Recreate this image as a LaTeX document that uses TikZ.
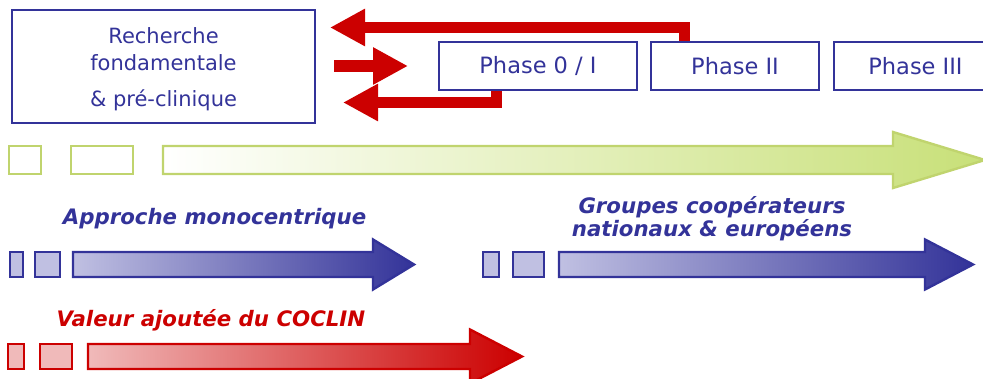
\documentclass[tikz,border=0pt]{standalone}
\usepackage{fontspec}
\setmainfont{DejaVu Sans}
\usetikzlibrary{arrows.meta}

\definecolor{phaseblue}{RGB}{51,51,153}
\definecolor{cocred}{RGB}{204,0,0}
\definecolor{limeline}{RGB}{192,212,110}
\definecolor{limefill}{RGB}{200,224,120}
\definecolor{lavender}{RGB}{192,192,226}
\definecolor{pinkfill}{RGB}{240,186,186}

% arrow shaped track: shaft start, head base, tip, centre y, shaft half, head half, style
\newcommand{\trackarrow}[7]{%
  \path[#7] (#1,#4-#5) -- (#2,#4-#5) -- (#2,#4-#6) -- (#3,#4) -- (#2,#4+#6)
    -- (#2,#4+#5) -- (#1,#4+#5) -- cycle;}

\tikzset{
  phasebox/.style={draw=phaseblue, line width=2.4pt, text=phaseblue, inner sep=0pt,
    minimum height=48pt, font=\fontsize{22.5}{27}\selectfont},
  backarrow/.style={cocred, line width=11pt, line join=miter,
    -{Triangle[length=35pt,width=35pt]}},
  tracklabel/.style={anchor=base, font=\fontsize{21.3}{23}\selectfont\bfseries\itshape},
  greentrack/.style={draw=limeline, line width=2.4pt, left color=white, right color=limefill},
  bluetrack/.style={draw=phaseblue, line width=2.4pt, left color=lavender, right color=phaseblue},
  redtrack/.style={draw=cocred, line width=2.4pt, left color=pinkfill, right color=cocred}
}

\begin{document}
\begin{tikzpicture}[x=1pt,y=-1pt]
\useasboundingbox (0,0) rectangle (983,379);

% Draw the research box and the phases
\node[phasebox, minimum width=303pt, minimum height=113pt, align=center,
  font=\fontsize{21}{27}\selectfont] (rech) at (163.5,66.5)
  {\rule{0pt}{22pt}Recherche\\fondamentale\\[9pt]\& pré-clinique};
\node[phasebox, minimum width=198pt] (p0) at (538,66) {Phase 0 / I};
\node[phasebox, minimum width=168pt] (p2) at (735,66) {Phase II};
\node[phasebox, minimum width=163pt] (p3) at (915.5,66) {Phase III};

% Draw the red feedback arrows
\coordinate (uptip) at (330,27.5);
\coordinate (midtail) at (334,66);
\coordinate (midtip) at (408,66);
\coordinate (lowtip) at (343,102.5);
\draw[backarrow] ([xshift=-51pt]p2.north) |- (uptip);
\draw[backarrow, line width=12pt] (midtail) -- (midtip);
\draw[backarrow] ([xshift=-42pt]p0.south) |- (lowtip);

% Draw the green track
\filldraw[draw=limeline, line width=2.4pt, fill=white] (9,146) rectangle (41,174);
\filldraw[draw=limeline, line width=2.4pt, fill=white] (71,146) rectangle (133,174);
\trackarrow{163}{893}{985}{160}{14}{28}{greentrack}

% Draw the monocentric track
\node[tracklabel, text=phaseblue] (mono) at (214.5,225) {Approche monocentrique};
\filldraw[draw=phaseblue, line width=2.4pt, fill=lavender] (10,252) rectangle (23,277);
\filldraw[draw=phaseblue, line width=2.4pt, fill=lavender] (35,252) rectangle (60,277);
\trackarrow{73}{373}{414}{264.5}{12.5}{25}{bluetrack}

% Draw the cooperative groups track
\node[tracklabel, anchor=center, align=center, text=phaseblue] (coop) at (712,218.5)
  {Groupes coopérateurs\\nationaux \& européens};
\filldraw[draw=phaseblue, line width=2.4pt, fill=lavender] (483,252) rectangle (499,277);
\filldraw[draw=phaseblue, line width=2.4pt, fill=lavender] (513,252) rectangle (544,277);
\trackarrow{559}{925}{973}{264.5}{12.5}{25}{bluetrack}

% Draw the COCLIN track
\node[tracklabel, text=cocred] (coclin) at (211,327) {Valeur ajoutée du COCLIN};
\filldraw[draw=cocred, line width=2.4pt, fill=pinkfill] (8,344) rectangle (24,369);
\filldraw[draw=cocred, line width=2.4pt, fill=pinkfill] (40,344) rectangle (72,369);
\trackarrow{88}{470}{522}{356.5}{12.5}{27}{redtrack}
\end{tikzpicture}
\end{document}
